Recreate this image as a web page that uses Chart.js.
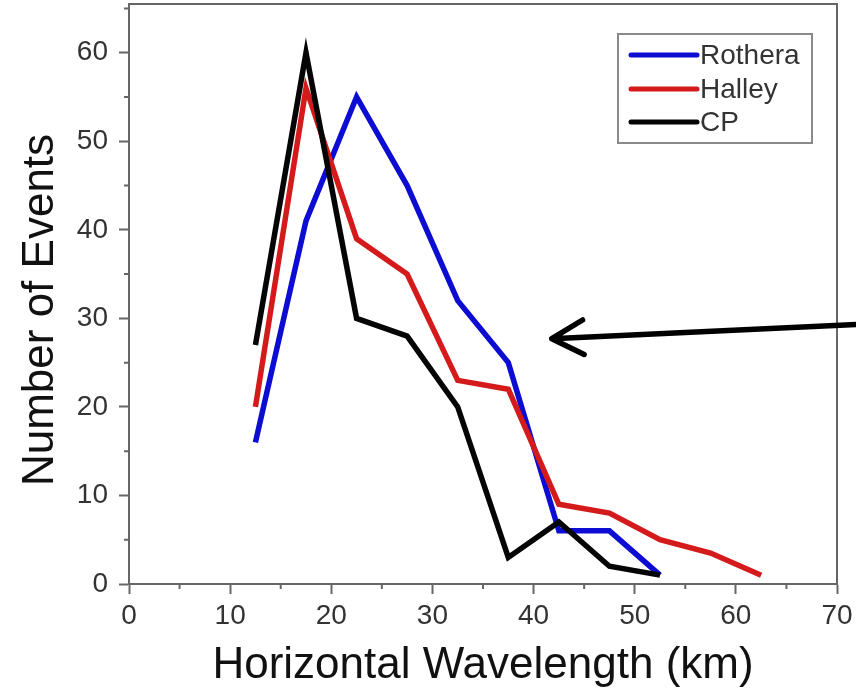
<!DOCTYPE html>
<html>
<head>
<meta charset="utf-8">
<script src="https://cdn.jsdelivr.net/npm/chart.js@4.4.1/dist/chart.umd.min.js"></script>
<style>
  html, body { margin: 0; padding: 0; background: #fff; }
  #wrap { width: 856px; height: 688px; }
</style>
</head>
<body>
<div id="wrap"><canvas id="chart"></canvas></div>
<script>
// horizontal wavelength bin centres (km)
const wavelengths = [12.5, 17.5, 22.5, 27.5, 32.5, 37.5, 42.5, 47.5, 52.5, 57.5, 62.5];
const rothera = [16, 41, 55, 45, 32, 25, 6, 6, 1];
const halley = [20, 56, 39, 35, 23, 22, 9, 8, 5, 3.5, 1];
const cp = [27, 60, 30, 28, 20, 3, 7, 2, 1];

const xTicks = [0, 10, 20, 30, 40, 50, 60, 70];
const yTicks = [0, 10, 20, 30, 40, 50, 60];

// arrow annotation, in data units: [x, y]
const arrowTail = [71.9, 29.3];
const arrowTip = [41.8, 27.7];

const Config = {
  colors: {
    rothera: "#0c0cd2",
    halley: "#d41a1a",
    cp: "#050505",
    axis: "#666666",
    tickText: "#333333",
    title: "#111111",
  },
  font: '"Liberation Sans", Arial, sans-serif',
  lineWidth: 5.5,
};

const toPoints = (vals) => vals.map((v, i) => ({ x: wavelengths[i], y: v }));

const extras = {
  id: "extras",
  afterDraw(chart) {
    const { ctx, chartArea: a, scales } = chart;
    const xs = scales.x, ys = scales.y;
    ctx.save();

    // frame (right + top)
    ctx.strokeStyle = Config.colors.axis;
    ctx.lineWidth = 2;
    ctx.beginPath();
    ctx.moveTo(a.left, a.top);
    ctx.lineTo(a.right, a.top);
    ctx.lineTo(a.right, a.bottom);
    ctx.stroke();

    // minor ticks
    ctx.beginPath();
    for (let v = 5; v < 70; v += 10) {
      const px = xs.getPixelForValue(v);
      ctx.moveTo(px, a.bottom);
      ctx.lineTo(px, a.bottom + 5);
    }
    for (let v = 5; v < ys.max; v += 10) {
      const py = ys.getPixelForValue(v);
      ctx.moveTo(a.left, py);
      ctx.lineTo(a.left - 5, py);
    }
    ctx.stroke();

    // y title
    ctx.fillStyle = Config.colors.title;
    ctx.font = "44px " + Config.font;
    ctx.textAlign = "center";
    ctx.textBaseline = "alphabetic";
    ctx.translate(53, 310);
    ctx.rotate(-Math.PI / 2);
    ctx.fillText("Number of Events", 0, 0);
    ctx.setTransform(1, 0, 0, 1, 0, 0);

    // legend
    const lx = 618, ly = 34, lw = 194, lh = 109;
    ctx.strokeStyle = "#8a8a8a";
    ctx.lineWidth = 2;
    ctx.strokeRect(lx, ly, lw, lh);
    ctx.font = "28px " + Config.font;
    ctx.textAlign = "left";
    ctx.textBaseline = "middle";
    const rows = [55, 89, 122];
    chart.data.datasets.forEach((ds, i) => {
      ctx.strokeStyle = ds.borderColor;
      ctx.lineWidth = 5;
      ctx.lineCap = "round";
      ctx.beginPath();
      ctx.moveTo(631, rows[i]);
      ctx.lineTo(697, rows[i]);
      ctx.stroke();
      ctx.fillStyle = "#333";
      ctx.fillText(ds.label, 700, rows[i] + 1);
    });

    // arrow
    const tx = xs.getPixelForValue(arrowTail[0]), ty = ys.getPixelForValue(arrowTail[1]);
    const hx = xs.getPixelForValue(arrowTip[0]), hy = ys.getPixelForValue(arrowTip[1]);
    const ang = Math.atan2(ty - hy, tx - hx);
    ctx.strokeStyle = "#000";
    ctx.lineWidth = 5.5;
    ctx.lineCap = "round";
    ctx.lineJoin = "round";
    ctx.beginPath();
    ctx.moveTo(tx, ty);
    ctx.lineTo(hx, hy);
    ctx.moveTo(hx + 36 * Math.cos(ang - 0.5), hy + 36 * Math.sin(ang - 0.5));
    ctx.lineTo(hx, hy);
    ctx.lineTo(hx + 36 * Math.cos(ang + 0.5), hy + 36 * Math.sin(ang + 0.5));
    ctx.stroke();

    ctx.restore();
  },
};

const lineStyle = (color, order) => ({
  borderColor: color,
  backgroundColor: color,
  borderWidth: Config.lineWidth,
  pointRadius: 0,
  tension: 0,
  fill: false,
  order,
  borderJoinStyle: "miter",
});

new Chart(document.getElementById("chart"), {
  type: "line",
  data: {
    datasets: [
      { label: "Rothera", data: toPoints(rothera), ...lineStyle(Config.colors.rothera, 3) },
      { label: "Halley", data: toPoints(halley), ...lineStyle(Config.colors.halley, 2) },
      { label: "CP", data: toPoints(cp), ...lineStyle(Config.colors.cp, 1) },
    ],
  },
  options: {
    responsive: true,
    maintainAspectRatio: false,
    animation: false,
    layout: { autoPadding: false, padding: { left: 0, right: 19, top: 4, bottom: 0 } },
    plugins: {
      legend: { display: false },
      tooltip: { enabled: false },
    },
    scales: {
      x: {
        type: "linear",
        min: 0,
        max: 70,
        afterBuildTicks: (s) => { s.ticks = xTicks.map((v) => ({ value: v })); },
        afterFit: (s) => {
          s.height = 104;
          s.paddingLeft = s.paddingRight = s.paddingTop = s.paddingBottom = 0;
        },
        ticks: {
          color: Config.colors.tickText,
          font: { size: 28, family: Config.font },
          padding: 5,
          maxRotation: 0,
          autoSkip: false,
        },
        grid: {
          drawOnChartArea: false,
          drawTicks: true,
          tickLength: 10,
          tickWidth: 2,
          tickColor: Config.colors.axis,
        },
        border: { color: Config.colors.axis, width: 2 },
        title: {
          display: true,
          text: "Horizontal Wavelength (km)",
          color: Config.colors.title,
          font: { size: 44, family: Config.font, lineHeight: 1 },
          padding: { top: 0, bottom: 0 },
        },
      },
      y: {
        min: 0,
        max: 65.5,
        afterBuildTicks: (s) => { s.ticks = yTicks.map((v) => ({ value: v })); },
        afterFit: (s) => {
          s.width = 129;
          s.paddingLeft = s.paddingRight = s.paddingTop = s.paddingBottom = 0;
        },
        ticks: {
          color: Config.colors.tickText,
          font: { size: 28, family: Config.font },
          padding: 11,
          autoSkip: false,
        },
        grid: {
          drawOnChartArea: false,
          drawTicks: true,
          tickLength: 10,
          tickWidth: 2,
          tickColor: Config.colors.axis,
        },
        border: { color: Config.colors.axis, width: 2 },
      },
    },
  },
  plugins: [extras],
});
</script>
</body>
</html>
